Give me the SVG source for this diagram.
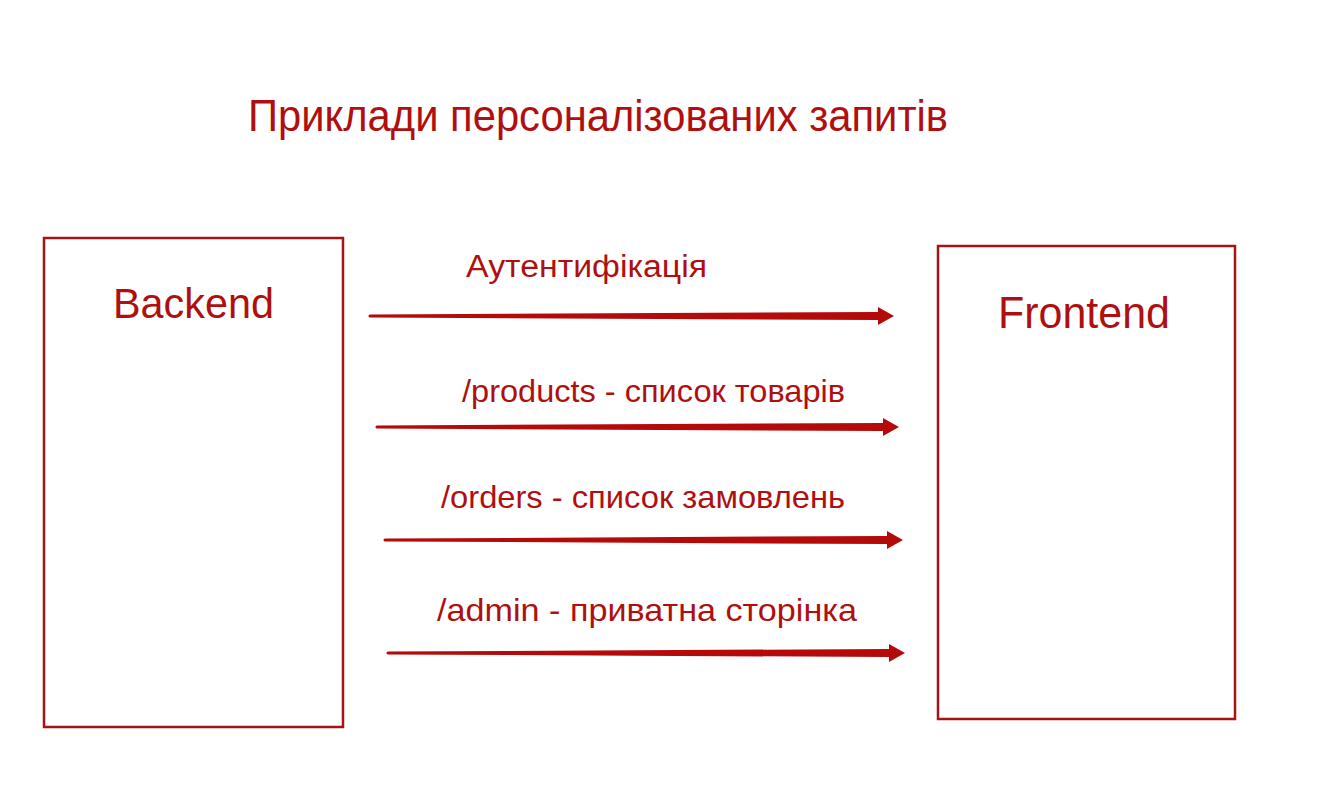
<svg xmlns="http://www.w3.org/2000/svg" width="1328" height="809" viewBox="0 0 1328 809">
<style>
.t{font-family:"Liberation Sans",Arial,sans-serif;fill:#b00f0f}
.box{fill:#fff;stroke:#a51414;stroke-width:2.5}
.arr{fill:#b40a0a}
</style>
<rect width="1328" height="809" fill="#fff"/>
<text class="t" x="248" y="131" font-size="45" textLength="700" lengthAdjust="spacingAndGlyphs">Приклади персоналізованих запитів</text>
<g id="backend">
<rect class="box" x="44" y="238" width="299" height="489"/>
<text class="t" x="113" y="318" font-size="43" textLength="161" lengthAdjust="spacingAndGlyphs">Backend</text>
</g>
<g id="frontend">
<rect class="box" x="938" y="246" width="297" height="473"/>
<text class="t" x="998" y="328" font-size="45" textLength="172" lengthAdjust="spacingAndGlyphs">Frontend</text>
</g>
<g id="connectors">
<path class="arr" d="M370,314.5 L878,312 L878,307 L894,316 L878,325 L878,320 L370,317.5 A1.5,1.5 0 0 1 370,314.5 Z"/>
<path class="arr" d="M377,425.5 L883,423 L883,418 L899,427 L883,436 L883,431 L377,428.5 A1.5,1.5 0 0 1 377,425.5 Z"/>
<path class="arr" d="M385,538.5 L887,536 L887,531 L903,540 L887,549 L887,544 L385,541.5 A1.5,1.5 0 0 1 385,538.5 Z"/>
<path class="arr" d="M388,651.5 L889,649 L889,644 L905,653 L889,662 L889,657 L388,654.5 A1.5,1.5 0 0 1 388,651.5 Z"/>
</g>
<g id="labels">
<text class="t" x="466" y="277" font-size="31" textLength="241" lengthAdjust="spacingAndGlyphs">Аутентифікація</text>
<text class="t" x="462" y="402" font-size="32" textLength="383" lengthAdjust="spacingAndGlyphs">/products - список товарів</text>
<text class="t" x="441" y="508" font-size="32" textLength="404" lengthAdjust="spacingAndGlyphs">/orders - список замовлень</text>
<text class="t" x="437" y="621" font-size="32" textLength="420" lengthAdjust="spacingAndGlyphs">/admin - приватна сторінка</text>
</g>
</svg>
